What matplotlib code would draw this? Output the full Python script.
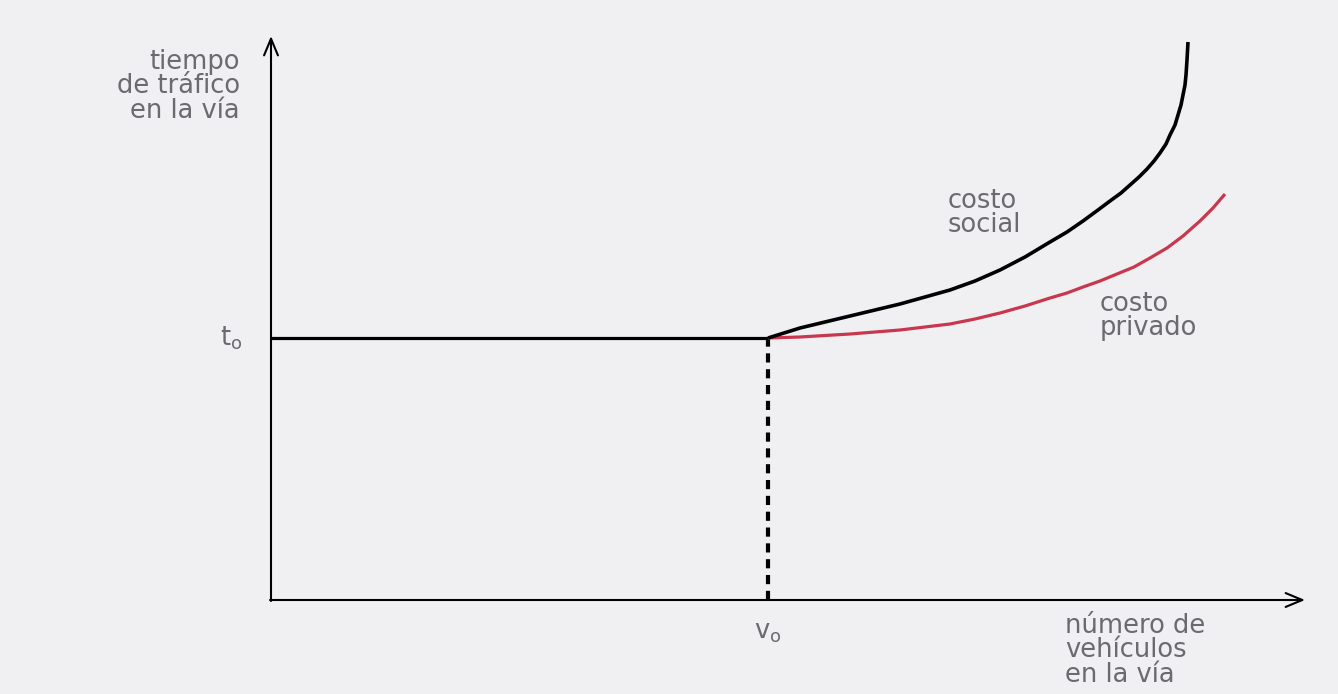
import matplotlib.pyplot as plt

# valores (unidades arbitrarias, origen en 0,0)
v0 = 4.97
t0 = 2.62

socialX = [4.97, 5.29, 5.79, 6.29, 6.79, 7.04, 7.29, 7.54, 7.79, 7.96, 8.12, 8.27, 8.39, 8.50, 8.59, 8.68,
           8.76, 8.83, 8.89, 8.95, 8.99, 9.04, 9.07, 9.10, 9.12, 9.14, 9.15, 9.16, 9.17]
socialY = [2.62, 2.72, 2.84, 2.96, 3.10, 3.19, 3.30, 3.43, 3.58, 3.68, 3.79, 3.90, 3.99, 4.07, 4.15, 4.23,
           4.31, 4.39, 4.47, 4.56, 4.65, 4.75, 4.85, 4.95, 5.05, 5.15, 5.25, 5.40, 5.58]

privadoX = [4.97, 5.29, 5.79, 6.29, 6.79, 7.04, 7.29, 7.54, 7.79, 7.96, 8.12, 8.29, 8.46, 8.63, 8.79,
            8.96, 9.12, 9.29, 9.42, 9.54]
privadoY = [2.62, 2.63, 2.66, 2.70, 2.76, 2.81, 2.87, 2.94, 3.02, 3.07, 3.13, 3.19, 3.26, 3.33, 3.42,
            3.52, 3.64, 3.79, 3.92, 4.06]

xEnd = 10.34
yEnd = 5.64

bg = '#f0f0f2'
textColor = '#6a6a70'
red = '#c8374e'
fs = 18.5
ls = 0.92

fig = plt.figure(figsize=(13.38, 6.94), dpi=100, facecolor=bg)
ax = fig.add_axes([0, 0, 1, 1])
ax.set_facecolor(bg)
ax.set_xlim(-2.71, 10.67)
ax.set_ylim(-0.94, 6.00)
ax.set_axis_off()

# ejes con flechas
arrow = dict(arrowstyle='->,head_length=1.2,head_width=0.5', lw=1.5, color='black', shrinkA=0, shrinkB=0)
ax.annotate('', xy=(xEnd, 0), xytext=(-0.01, 0), arrowprops=arrow)
ax.annotate('', xy=(0, yEnd), xytext=(0, -0.01), arrowprops=arrow)

# tramo plano y linea punteada
ax.plot([0, v0], [t0, t0], color='black', lw=2.3, solid_capstyle='butt')
ax.plot([v0, v0], [0, t0], color='black', lw=3, linestyle=(0, (2.2, 1.6)))

ax.plot(privadoX, privadoY, color=red, lw=2.3, solid_capstyle='butt')
ax.plot(socialX, socialY, color='black', lw=2.6, solid_capstyle='butt')

# textos
ax.text(-0.31, 5.51, 'tiempo\nde tráfico\nen la vía', ha='right', va='top',
        fontsize=fs, color=textColor, linespacing=ls)
ax.text(-0.29, t0, r'$\mathregular{t_o}$', ha='right', va='center', fontsize=fs, color=textColor)
ax.text(v0, -0.19, r'$\mathregular{v_o}$', ha='center', va='top', fontsize=fs, color=textColor)
ax.text(6.77, 4.12, 'costo\nsocial', ha='left', va='top', fontsize=fs, color=textColor, linespacing=ls)
ax.text(8.29, 3.09, 'costo\nprivado', ha='left', va='top', fontsize=fs, color=textColor, linespacing=ls)
ax.text(7.94, -0.13, 'número de\nvehículos\nen la vía', ha='left', va='top',
        fontsize=fs, color=textColor, linespacing=ls)

plt.savefig('out.png', dpi=100, facecolor=bg)
